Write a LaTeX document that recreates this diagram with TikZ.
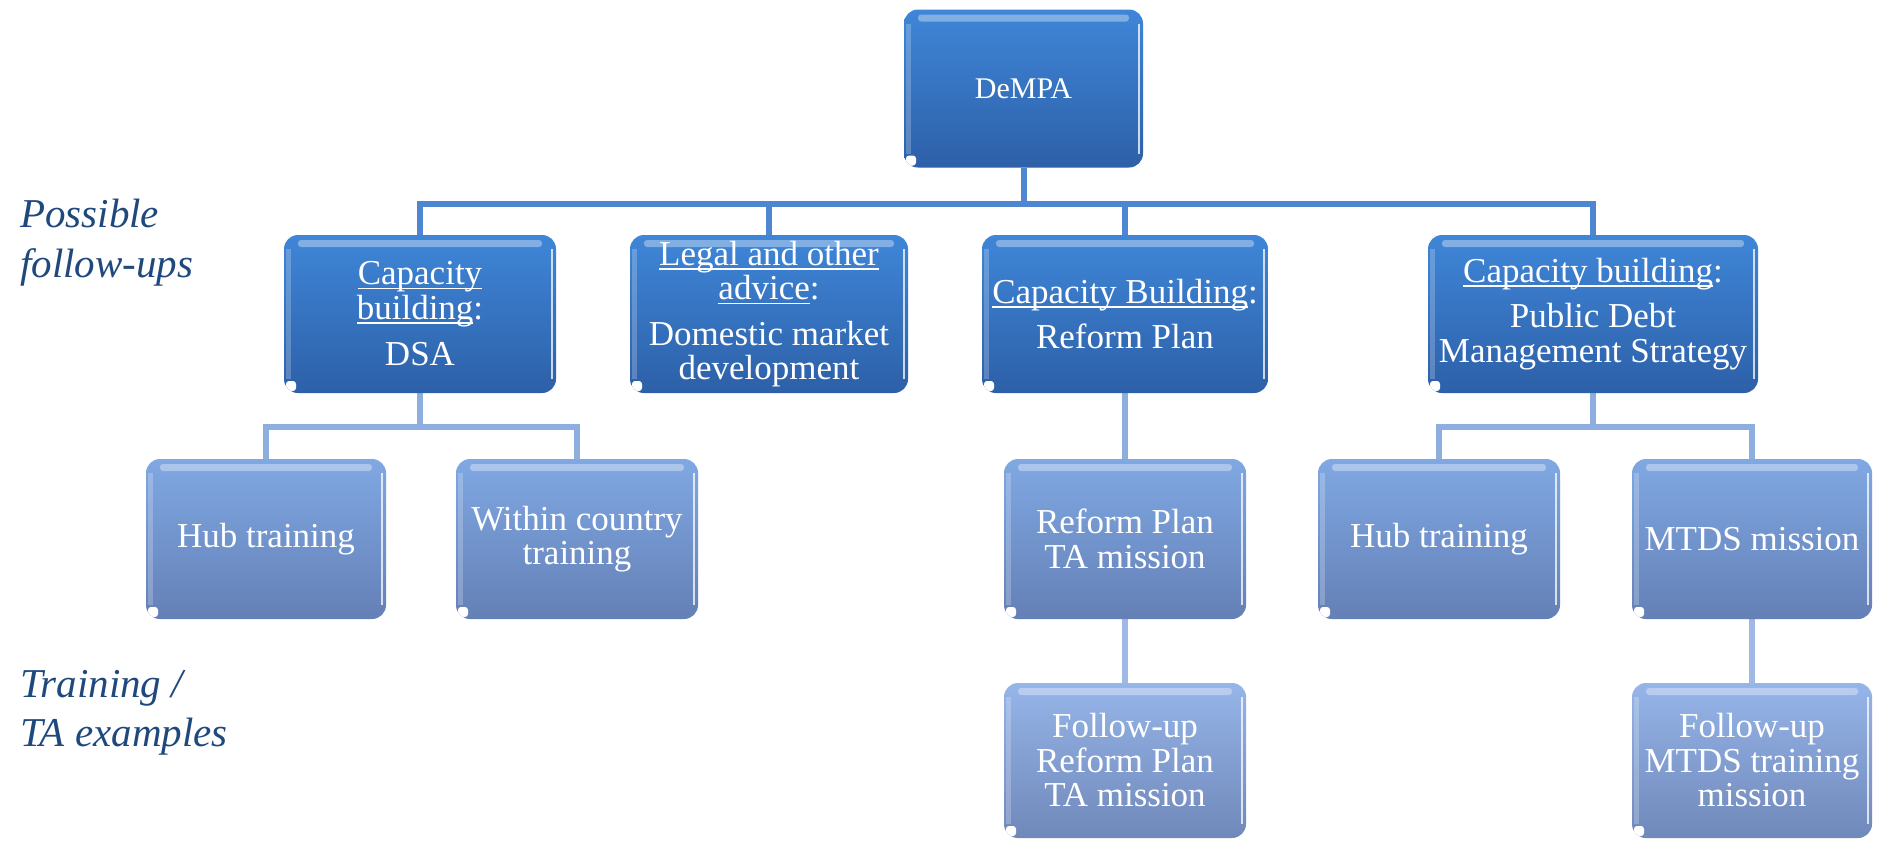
\documentclass[tikz,border=0pt]{standalone}
\usepackage{fontspec}
\setmainfont{Liberation Serif}
\usetikzlibrary{backgrounds}

\definecolor{boxAtop}{HTML}{3F86D8}
\definecolor{boxAbot}{HTML}{2D60A8}
\definecolor{boxBtop}{HTML}{80A8E3}
\definecolor{boxBbot}{HTML}{6480B6}
\definecolor{boxCtop}{HTML}{96B5E8}
\definecolor{boxCbot}{HTML}{7088BA}
\definecolor{linkA}{HTML}{4E86D2}
\definecolor{linkB}{HTML}{8DAEDF}
\definecolor{linkC}{HTML}{9DB9E4}
\definecolor{sidetext}{HTML}{1F497D}

% underline a word at a fixed depth without changing the line height
\newcommand\ulword[1]{\setbox0\hbox{#1}\rlap{\rule[-4.5pt]{\wd0}{1.6pt}}\box0}

\tikzset{
  gloss/.style={path picture={
    \fill[white,opacity=0.35,rounded corners=3pt]
      ([xshift=14pt,yshift=-5pt]path picture bounding box.north west) rectangle
      ([xshift=-14pt,yshift=-12pt]path picture bounding box.north east);
    \draw[white,opacity=0.75,line width=2pt]
      ([xshift=-4pt,yshift=-14pt]path picture bounding box.north east) --
      ([xshift=-4pt,yshift=14pt]path picture bounding box.south east);
    \draw[white,opacity=0.22,line width=5pt]
      ([xshift=4pt,yshift=-14pt]path picture bounding box.north west) --
      ([xshift=4pt,yshift=14pt]path picture bounding box.south west);
    \fill[white,rounded corners=3pt]
      ([xshift=2pt,yshift=2pt]path picture bounding box.south west) rectangle ++(10pt,10pt);
  }},
  orgbox/.style={rounded corners=14pt, inner sep=4pt, align=center, text=white,
    font=\fontsize{35}{34.5}\selectfont, gloss},
  lvlone/.style={orgbox, top color=boxAtop, bottom color=boxAbot, minimum height=158pt},
  lvltwo/.style={orgbox, top color=boxBtop, bottom color=boxBbot, minimum height=160pt},
  lvlthree/.style={orgbox, top color=boxCtop, bottom color=boxCbot, minimum height=155pt},
  linkone/.style={draw=linkA, line width=6pt},
  linktwo/.style={draw=linkB, line width=6pt},
  linkthree/.style={draw=linkC, line width=6pt},
  sidelabel/.style={anchor=base west, inner sep=0pt, text=sidetext,
    font=\fontsize{41}{48}\selectfont\itshape},
}

\begin{document}
\begin{tikzpicture}[x=1pt, y=-1pt]
\useasboundingbox (0,0) rectangle (1881,841);

% side captions
\node[sidelabel] (pf1) at (20,227) {Possible};
\node[sidelabel] (pf2) at (20,277) {follow-ups};
\node[sidelabel] (te1) at (20,697) {Training /};
\node[sidelabel] (te2) at (20,746) {TA examples};

% top
\node[lvlone, minimum width=239pt, font=\fontsize{30}{34}\selectfont] (dempa) at (1023.5,88.5) {DeMPA};

% follow-ups
\node[lvlone, minimum width=272pt] (capdsa) at (420,314)
  {\ulword{Capacity}\\\ulword{building}:\\[12pt]DSA};
\node[lvlone, minimum width=278pt] (legal) at (769,314)
  {\ulword{Legal and other}\\\ulword{advice}:\\[11pt]Domestic market\\development};
\node[lvlone, minimum width=286pt] (capreform) at (1125,314)
  {\ulword{Capacity Building}:\\[11pt]Reform Plan};
\node[lvlone, minimum width=330pt] (cappdms) at (1593,314)
  {\ulword{Capacity building}:\\[11pt]Public Debt\\Management Strategy};

% training / TA
\node[lvltwo, minimum width=240pt] (hubl) at (266,539) {Hub training};
\node[lvltwo, minimum width=242pt] (within) at (577,539) {Within country\\training};
\node[lvltwo, minimum width=242pt] (rpta) at (1125,539) {Reform Plan\\TA mission};
\node[lvltwo, minimum width=242pt] (hubr) at (1439,539) {Hub training};
\node[lvltwo, minimum width=240pt] (mtds) at (1752,539) {MTDS mission};

\node[lvlthree, minimum width=242pt] (furp) at (1125,760.5) {Follow-up\\Reform Plan\\TA mission};
\node[lvlthree, minimum width=240pt] (fumtds) at (1752,760.5) {Follow-up\\MTDS training\\mission};

% connectors, behind the boxes
\begin{scope}[on background layer]
  \fill[white] (0,0) rectangle (1881,841);

  \coordinate (busone) at (1023.5,204);
  \draw[linkone] (dempa.south) -- (busone);
  \draw[linkone] (capdsa.north) |- (busone);
  \draw[linkone] (legal.north) |- (busone);
  \draw[linkone] (capreform.north) |- (busone);
  \draw[linkone] (cappdms.north) |- (busone);

  \coordinate (busleft) at (420,427);
  \draw[linktwo] (capdsa.south) -- (busleft);
  \draw[linktwo] (hubl.north) |- (busleft);
  \draw[linktwo] (within.north) |- (busleft);

  \draw[linktwo] (capreform.south) -- (rpta.north);

  \coordinate (busright) at (1593,427);
  \draw[linktwo] (cappdms.south) -- (busright);
  \draw[linktwo] (hubr.north) |- (busright);
  \draw[linktwo] (mtds.north) |- (busright);

  \draw[linkthree] (rpta.south) -- (furp.north);
  \draw[linkthree] (mtds.south) -- (fumtds.north);
\end{scope}
\end{tikzpicture}
\end{document}
